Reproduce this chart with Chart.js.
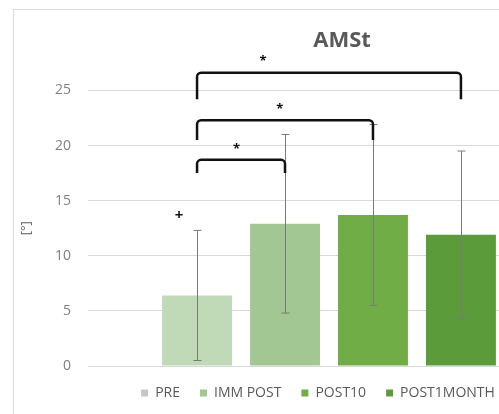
<!DOCTYPE html>
<html>
<head>
<meta charset="utf-8">
<script src="https://cdn.jsdelivr.net/npm/chart.js@4/dist/chart.umd.min.js"></script>
<style>
  html, body { margin: 0; padding: 0; background: #fff; overflow: hidden; width: 499px; height: 414px; }
  #wrap { position: absolute; left: 13px; top: 9px; border: 1px solid #d9d9d9; background: #fff; }
  canvas { display: block; }
</style>
</head>
<body>
<div id="wrap"><canvas id="chart" width="656" height="420"></canvas></div>
<script>
// data
const groups = ['PRE', 'IMM POST', 'POST10', 'POST1MONTH'];
const means = [6.4, 12.9, 13.7, 11.9];
const sds = [5.9, 8.1, 8.2, 7.6];
const yTicks = [0, 5, 10, 15, 20, 25];
// significance brackets: from group, to group, line level, leg bottom, star position (0..1)
const bracketFrom = [0, 0, 0];
const bracketTo = [1, 2, 3];
const bracketLevel = [18.7, 22.3, 26.6];
const bracketLegEnd = [17.5, 20.5, 24.2];
const bracketStarPos = [0.45, 0.47, 0.25];
const plusValue = 13.6;

const barColors = ['#c0d9b6', '#a3c792', '#70ad47', '#5c9b3a'];
const legendColors = ['#c6c6c6', '#a3c792', '#70ad47', '#5c9b3a'];

// error bars + brackets drawn on top of the bars
const overlayPlugin = {
    id: 'overlay',
    afterLayout(chart) {
        // legend sits a bit left of the plot centre in the original
        chart.legend.left -= 11;
        chart.legend.right -= 11;
    },
    afterDatasetsDraw(chart) {
        const ctx = chart.ctx;
        const y = chart.scales.y;
        const centers = groups.map((g, i) => chart.getDatasetMeta(i).data[0].x);

        ctx.save();
        ctx.strokeStyle = '#7a7a7a';
        ctx.lineWidth = 1;
        means.forEach((m, i) => {
            const x = Math.round(centers[i]) + 0.5;
            const top = y.getPixelForValue(m + sds[i]);
            const bot = y.getPixelForValue(m - sds[i]);
            ctx.beginPath();
            ctx.moveTo(x, top); ctx.lineTo(x, bot);
            ctx.moveTo(x - 4, top); ctx.lineTo(x + 4, top);
            ctx.moveTo(x - 4, bot); ctx.lineTo(x + 4, bot);
            ctx.stroke();
        });

        ctx.strokeStyle = '#111';
        ctx.lineWidth = 2.5;
        ctx.lineJoin = 'round';
        ctx.fillStyle = '#111';
        ctx.font = 'bold 13px "Open Sans"';
        ctx.textAlign = 'center';
        ctx.textBaseline = 'middle';
        bracketFrom.forEach((f, i) => {
            const x1 = centers[f];
            const x2 = centers[bracketTo[i]];
            const yl = y.getPixelForValue(bracketLevel[i]);
            const yb = y.getPixelForValue(bracketLegEnd[i]);
            ctx.beginPath();
            ctx.moveTo(x1, yb);
            ctx.arcTo(x1, yl, x2, yl, 4);
            ctx.arcTo(x2, yl, x2, yb, 4);
            ctx.lineTo(x2, yb);
            ctx.stroke();
            ctx.fillText('*', x1 + (x2 - x1) * bracketStarPos[i], yl - 11);
        });
        ctx.font = 'bold 15px "Open Sans"';
        ctx.fillText('+', centers[0] - 18, y.getPixelForValue(plusValue));
        ctx.restore();
    }
};

new Chart(document.getElementById('chart'), {
    type: 'bar',
    data: {
        labels: [''],
        datasets: groups.map((g, i) => ({
            label: g,
            data: [means[i]],
            backgroundColor: barColors[i],
            categoryPercentage: 0.73,
            barPercentage: 0.795
        }))
    },
    options: {
        responsive: false,
        animation: false,
        layout: { padding: { left: 0, right: 0, top: 0, bottom: 20 } },
        plugins: {
            title: {
                display: true,
                text: 'AMSt',
                color: '#595959',
                font: { family: 'Open Sans', size: 22, weight: 'bold' },
                padding: { top: 18, bottom: 36 }
            },
            legend: {
                position: 'bottom',
                fullSize: false,
                labels: {
                    boxWidth: 7,
                    boxHeight: 7,
                    padding: 20,
                    color: '#595959',
                    font: { family: 'Open Sans', size: 14 },
                    generateLabels(chart) {
                        const items = Chart.defaults.plugins.legend.labels.generateLabels(chart);
                        items.forEach((it, i) => { it.fillStyle = legendColors[i]; it.strokeStyle = legendColors[i]; it.lineWidth = 0; });
                        return items;
                    }
                }
            },
            tooltip: { enabled: false }
        },
        scales: {
            x: { display: false },
            y: {
                min: 0,
                max: 25,
                afterBuildTicks(scale) { scale.ticks = yTicks.map(v => ({ value: v })); },
                afterFit(scale) { scale.width = 74; },
                border: { display: false },
                grid: { color: '#d9d9d9', drawTicks: false },
                ticks: { padding: 17, color: '#808080', font: { family: 'Open Sans', size: 14 } },
                title: { display: true, text: '[°]', color: '#595959', font: { family: 'Open Sans', size: 13 }, padding: { top: 4, bottom: 0 } }
            },
            // empty space to the right of the plot (cut off by the window)
            yRight: {
                position: 'right',
                display: true,
                afterFit(scale) { scale.width = 100; },
                border: { display: false },
                grid: { display: false },
                ticks: { display: false }
            }
        }
    },
    plugins: [overlayPlugin]
});
</script>
</body>
</html>
